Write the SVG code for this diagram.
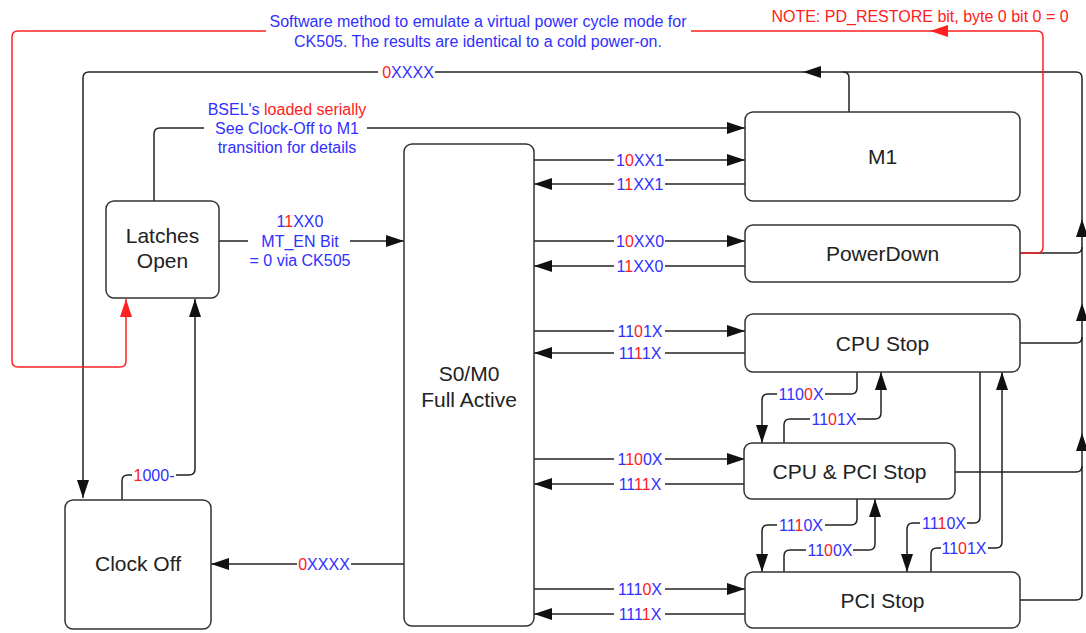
<svg xmlns="http://www.w3.org/2000/svg" width="1086" height="633" viewBox="0 0 1086 633">
<style>
.ln{fill:none;stroke:#222;stroke-width:1.5}
.rd{fill:none;stroke:#ff2020;stroke-width:1.5}
.box{fill:#fff;stroke:#333;stroke-width:1.5}
.nt{font-family:"Liberation Sans",Arial,sans-serif;font-size:21px;fill:#222;text-anchor:middle}
.lb{font-family:"Liberation Sans",Arial,sans-serif;font-size:16px;fill:#3030ff;text-anchor:middle}
.r{fill:#ff2020}
.ah{fill:#111}
.ahr{fill:#ff2020}
</style>
<defs>
<marker id="a" markerUnits="userSpaceOnUse" markerWidth="18" markerHeight="12" refX="18" refY="6" orient="auto"><path d="M0,0 L18,6 L0,12 z" fill="#111"/></marker>
<marker id="ar" markerUnits="userSpaceOnUse" markerWidth="18" markerHeight="12" refX="18" refY="6" orient="auto"><path d="M0,0 L18,6 L0,12 z" fill="#ff2020"/></marker>
</defs>
<rect width="1086" height="633" fill="#fff"/>

<g id="connectors">
<!-- top loop to Clock Off -->
<path class="ln" d="M1020,600 H1076 Q1082,600 1082,594 V78 Q1082,72 1076,72 H435"/>
<path class="ln" d="M378,72 H89 Q83,72 83,78 V498" marker-end="url(#a)"/>
<path class="ln" d="M849,112 V78 Q849,72 843,72"/>
<path class="ln" d="M1020,253 H1076 Q1082,253 1082,247"/>
<path class="ln" d="M1020,343 H1076 Q1082,343 1082,337"/>
<path class="ln" d="M955,472 H1076 Q1082,472 1082,466"/>
<polygon class="ah" points="803,72 821,66 821,78"/>
<polygon class="ah" points="1082,219 1076,237 1088,237"/>
<polygon class="ah" points="1082,303 1076,321 1088,321"/>
<polygon class="ah" points="1082,433 1076,451 1088,451"/>
<text class="lb" x="408" y="77.7"><tspan class="r">0</tspan>XXXX</text>

<!-- red software loop -->
<path class="rd" d="M1020,253 H1037 Q1043,253 1043,247 V37 Q1043,31 1037,31 H691"/>
<path class="rd" d="M266,31 H18 Q12,31 12,37 V361 Q12,367 18,367 H120 Q126,367 126,361 V299" marker-end="url(#ar)"/>
<polygon class="ahr" points="930,31 948,25 948,37"/>
<text class="lb" x="478" y="27">Software method to emulate a virtual power cycle mode for</text>
<text class="lb" x="478" y="47">CK505. The results are identical to a cold power-on.</text>
<text class="lb r" x="920" y="21.5">NOTE: PD_RESTORE bit, byte 0 bit 0 = 0</text>

<!-- Latches -> M1 -->
<path class="ln" d="M154,201 V134 Q154,128 160,128 H204"/>
<path class="ln" d="M367,128 H745" marker-end="url(#a)"/>
<text class="lb" x="287" y="114.5">BSEL's <tspan class="r">loaded serially</tspan></text>
<text class="lb" x="287" y="133.5">See Clock-Off to M1</text>
<text class="lb" x="287" y="153">transition for details</text>

<!-- Latches -> S0/M0 -->
<path class="ln" d="M219,241 H248"/>
<path class="ln" d="M350,241 H404" marker-end="url(#a)"/>
<text class="lb" x="300" y="227">1<tspan class="r">1</tspan>XX0</text>
<text class="lb" x="300" y="247">MT_EN Bit</text>
<text class="lb" x="300" y="266">= 0 via CK505</text>

<!-- Clock Off -> Latches -->
<path class="ln" d="M122,500 V481 Q122,475 128,475 H132"/>
<path class="ln" d="M176,475 H189 Q195,475 195,469 V299" marker-end="url(#a)"/>
<text class="lb" x="154" y="480.7"><tspan class="r">1</tspan>000-</text>

<!-- S0/M0 -> Clock Off -->
<path class="ln" d="M404,564 H351"/>
<path class="ln" d="M297,564 H211" marker-end="url(#a)"/>
<text class="lb" x="324" y="569.7"><tspan class="r">0</tspan>XXXX</text>

<!-- S0/M0 <-> M1 -->
<path class="ln" d="M534,160 H614"/>
<path class="ln" d="M665,160 H745" marker-end="url(#a)"/>
<text class="lb" x="640" y="165.7">1<tspan class="r">0</tspan>XX1</text>
<path class="ln" d="M745,184 H665"/>
<path class="ln" d="M614,184 H534" marker-end="url(#a)"/>
<text class="lb" x="640" y="189.7">1<tspan class="r">1</tspan>XX1</text>

<!-- S0/M0 <-> PowerDown -->
<path class="ln" d="M534,241 H614"/>
<path class="ln" d="M665,241 H745" marker-end="url(#a)"/>
<text class="lb" x="640" y="246.7">1<tspan class="r">0</tspan>XX0</text>
<path class="ln" d="M745,266 H665"/>
<path class="ln" d="M614,266 H534" marker-end="url(#a)"/>
<text class="lb" x="640" y="271.7">1<tspan class="r">1</tspan>XX0</text>

<!-- S0/M0 <-> CPU Stop -->
<path class="ln" d="M534,331 H614"/>
<path class="ln" d="M665,331 H745" marker-end="url(#a)"/>
<text class="lb" x="640" y="336.7">11<tspan class="r">0</tspan>1X</text>
<path class="ln" d="M745,353 H665"/>
<path class="ln" d="M614,353 H534" marker-end="url(#a)"/>
<text class="lb" x="640" y="358.7">11<tspan class="r">1</tspan>1X</text>

<!-- S0/M0 <-> CPU & PCI Stop -->
<path class="ln" d="M534,459 H614"/>
<path class="ln" d="M665,459 H745" marker-end="url(#a)"/>
<text class="lb" x="640" y="464.7">1<tspan class="r">10</tspan>0X</text>
<path class="ln" d="M745,484 H665"/>
<path class="ln" d="M614,484 H534" marker-end="url(#a)"/>
<text class="lb" x="640" y="489.7">11<tspan class="r">11</tspan>X</text>

<!-- S0/M0 <-> PCI Stop -->
<path class="ln" d="M534,589 H614"/>
<path class="ln" d="M665,589 H745" marker-end="url(#a)"/>
<text class="lb" x="640" y="594.7">111<tspan class="r">0</tspan>X</text>
<path class="ln" d="M745,614 H665"/>
<path class="ln" d="M614,614 H534" marker-end="url(#a)"/>
<text class="lb" x="640" y="619.7">111<tspan class="r">1</tspan>X</text>

<!-- CPU Stop <-> CPU & PCI Stop -->
<path class="ln" d="M857,372 V388 Q857,394 851,394 H825"/>
<path class="ln" d="M777,394 H768 Q762,394 762,400 V443" marker-end="url(#a)"/>
<text class="lb" x="801" y="399.7">110<tspan class="r">0</tspan>X</text>
<path class="ln" d="M784,443 V425 Q784,419 790,419 H810"/>
<path class="ln" d="M857,419 H875 Q881,419 881,413 V372" marker-end="url(#a)"/>
<text class="lb" x="834" y="424.7">11<tspan class="r">0</tspan>1X</text>

<!-- CPU & PCI Stop <-> PCI Stop -->
<path class="ln" d="M857,499 V519 Q857,525 851,525 H825"/>
<path class="ln" d="M777,525 H768 Q762,525 762,531 V572" marker-end="url(#a)"/>
<text class="lb" x="801" y="530.7">11<tspan class="r">1</tspan>0X</text>
<path class="ln" d="M784,572 V556 Q784,550 790,550 H806"/>
<path class="ln" d="M853,550 H869 Q875,550 875,544 V499" marker-end="url(#a)"/>
<text class="lb" x="830" y="555.7">11<tspan class="r">0</tspan>0X</text>

<!-- CPU Stop <-> PCI Stop -->
<path class="ln" d="M980,372 V517 Q980,523 974,523 H967"/>
<path class="ln" d="M920,523 H913 Q907,523 907,529 V572" marker-end="url(#a)"/>
<text class="lb" x="944" y="528.7">11<tspan class="r">1</tspan>0X</text>
<path class="ln" d="M931,572 V554 Q931,548 937,548 H941"/>
<path class="ln" d="M988,548 H996 Q1002,548 1002,542 V372" marker-end="url(#a)"/>
<text class="lb" x="964" y="553.7">11<tspan class="r">0</tspan>1X</text>
</g>

<g id="m1"><rect class="box" x="745" y="112" width="275" height="89" rx="8"/><text class="nt" x="882.5" y="164">M1</text></g>
<g id="powerdown"><rect class="box" x="745" y="225" width="275" height="57" rx="8"/><text class="nt" x="882.5" y="261">PowerDown</text></g>
<g id="cpustop"><rect class="box" x="745" y="314" width="275" height="58" rx="8"/><text class="nt" x="882.5" y="350.5">CPU Stop</text></g>
<g id="cpupcistop"><rect class="box" x="744" y="443" width="211" height="56" rx="8"/><text class="nt" x="849.5" y="478.5">CPU &amp; PCI Stop</text></g>
<g id="pcistop"><rect class="box" x="745" y="572" width="275" height="56" rx="8"/><text class="nt" x="882.5" y="607.5">PCI Stop</text></g>
<g id="s0m0"><rect class="box" x="404" y="144" width="130" height="482" rx="8"/><text class="nt" x="469" y="381"><tspan x="469">S0/M0</tspan><tspan x="469" dy="26">Full Active</tspan></text></g>
<g id="latches"><rect class="box" x="106" y="201" width="113" height="97" rx="8"/><text class="nt" x="162.5" y="243"><tspan x="162.5">Latches</tspan><tspan x="162.5" dy="25">Open</tspan></text></g>
<g id="clockoff"><rect class="box" x="65" y="500" width="146" height="129" rx="8"/><text class="nt" x="138" y="571">Clock Off</text></g>
</svg>
